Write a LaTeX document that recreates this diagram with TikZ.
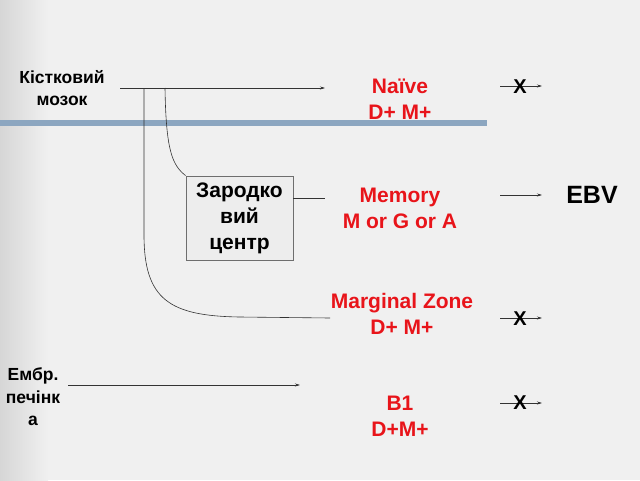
\documentclass[tikz,border=0pt]{standalone}
\usepackage{fontspec}
\setmainfont{Liberation Sans}
\usetikzlibrary{arrows.meta}
\definecolor{bg}{HTML}{F0F0F0}
\definecolor{band}{HTML}{8CA6C0}
\definecolor{redt}{HTML}{E8141A}
\definecolor{boxfill}{HTML}{EDEDED}
\definecolor{boxline}{HTML}{6E6E6E}
\definecolor{ln}{HTML}{333333}
\tikzset{
  lbl/.style={inner sep=0pt, align=center, font=\bfseries\fontsize{17.5}{22.5}\selectfont, text=black},
  cell/.style={inner sep=0pt, align=center, font=\bfseries\fontsize{21}{26}\selectfont, text=redt},
  cross/.style={inner sep=0pt, font=\bfseries\fontsize{20}{24}\selectfont, text=black},
  gcbox/.style={draw=boxline, fill=boxfill, line width=0.8pt, minimum width=107pt, minimum height=84pt, inner sep=0pt, align=center, font=\bfseries\fontsize{21}{26}\selectfont},
  conn/.style={draw=ln, line width=0.6pt},
  arr/.style={conn, -{Stealth[length=5pt,width=3pt]}}
}
\begin{document}
\begin{tikzpicture}[x=1pt,y=-1pt]
\useasboundingbox (0,0) rectangle (640,480);
\fill[bg] (0,0) rectangle (640,480);
\shade[left color=black!16, right color=bg] (0,0) rectangle (48,480);
\fill[band] (0,120) rectangle (487,125.5);

% left labels
\node[lbl] (bm) at (62,88) {Кістковий\\мозок};
\node[lbl] (liver) at (33,397) {Ембр.\\печінк\\а};

% box
\node[gcbox] (gc) at (239.5,218) {Зародко\\вий\\центр};

% cell labels
\node[cell] (naive) at (400,99) {Naïve\\D+ M+};
\node[cell] (mem) at (400,208) {Memory\\M or G or A};
\node[cell] (mz) at (402,314) {Marginal Zone\\D+ M+};
\node[cell] (b1) at (400,416) {B1\\D+M+};
\node[inner sep=0pt, font=\bfseries\fontsize{25}{28}\selectfont] (ebv) at (592,195) {EBV};

% coordinates
\coordinate (s0) at (120,88);
\coordinate (s1) at (325,88);
\coordinate (a) at (144,88);
\coordinate (b) at (165,88);
\coordinate (mzend) at (330,318);
\coordinate (gcend) at (325,198);
\coordinate (l0) at (68,385);
\coordinate (l1) at (300,385);

\draw[arr] (s0) -- (s1);
\draw[conn] (a) -- (144,235) .. controls (144,300) and (170,316) .. (240,317) -- (mzend);
\draw[conn] (b) .. controls (166,150) and (172,165) .. (gc.north west);
\draw[conn] (gc.east |- gcend) -- (gcend);
\draw[arr] (l0) -- (l1);

% right arrows
\coordinate (r1a) at (500,86); \coordinate (r1b) at (542,86);
\coordinate (r2a) at (500,195); \coordinate (r2b) at (542,195);
\coordinate (r3a) at (500,318); \coordinate (r3b) at (542,318);
\coordinate (r4a) at (500,403); \coordinate (r4b) at (542,403);
\draw[arr] (r1a) -- (r1b);
\draw[arr] (r2a) -- (r2b);
\draw[arr] (r3a) -- (r3b);
\draw[arr] (r4a) -- (r4b);
\node[cross] (x1) at (520,87) {X};
\node[cross] (x3) at (520,319) {X};
\node[cross] (x4) at (520,403) {X};
\end{tikzpicture}
\end{document}
